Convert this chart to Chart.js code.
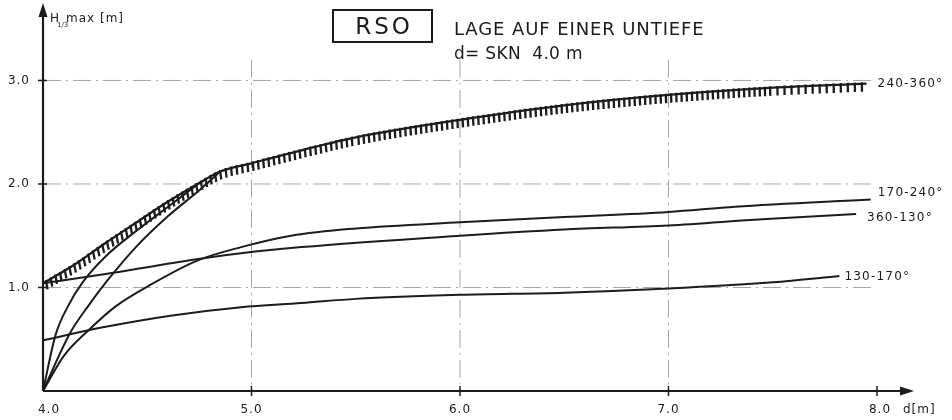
<!DOCTYPE html>
<html lang="de">
<head>
    <meta charset="UTF-8">
    <title>RSO - Lage auf einer Untiefe</title>
    <script src="https://cdn.jsdelivr.net/npm/chart.js"></script>
    <style>
        body { margin: 0; background: #fff; }
        .sheet { position: relative; width: 952px; height: 420px; font-family: "DejaVu Sans", sans-serif; color: #1c1c1c; }
        .sheet canvas { position: absolute; left: 0; top: 0; }
        .station { position: absolute; left: 332px; top: 9px; width: 97px; height: 30px; border: 2px solid #1c1c1c;
                   font-size: 23px; line-height: 30px; text-align: center; letter-spacing: 3px; text-indent: 3px; }
        .site { position: absolute; left: 454px; top: 19px; font-size: 18px; line-height: 20px; letter-spacing: 0.9px; }
        .site .depth { display: block; margin-top: 4px; font-size: 17px; letter-spacing: 0.3px; }
    </style>
</head>
<body>
    <div class="sheet">
        <canvas id="waveChart" width="952" height="420"></canvas>
        <div class="station">RSO</div>
        <div class="site">LAGE AUF EINER UNTIEFE<span class="depth">d= SKN&nbsp; 4.0 m</span></div>
    </div>

    <script>
        // wave height envelope 240-360° (hatched)
        const dEnv = [4.0, 4.15, 4.3, 4.45, 4.6, 4.75, 4.85, 5.0, 5.25, 5.5, 6.0, 6.5, 7.0, 7.5, 7.95];
        const hEnv = [1.04, 1.22, 1.43, 1.63, 1.83, 2.01, 2.12, 2.20, 2.33, 2.45, 2.62, 2.76, 2.86, 2.93, 2.97];

        // two steep branches from the origin that run into the envelope
        const dBranchA = [4.0, 4.06, 4.12, 4.19, 4.3, 4.45, 4.6, 4.75];
        const hBranchA = [0, 0.54, 0.82, 1.05, 1.30, 1.55, 1.78, 2.01];
        const dBranchB = [4.0, 4.13, 4.22, 4.31, 4.45, 4.6, 4.75, 4.85];
        const hBranchB = [0, 0.56, 0.83, 1.07, 1.40, 1.69, 1.94, 2.12];

        // 170-240°
        const d170 = [4.0, 4.1, 4.22, 4.35, 4.51, 4.74, 4.95, 5.19, 5.5, 6.0, 6.5, 7.0, 7.32, 7.97];
        const h170 = [0, 0.34, 0.59, 0.82, 1.02, 1.26, 1.39, 1.50, 1.57, 1.63, 1.68, 1.73, 1.78, 1.85];

        // 360-130°
        const d360 = [4.0, 4.3, 4.63, 4.95, 5.24, 6.0, 6.5, 7.0, 7.45, 7.9];
        const h360 = [1.04, 1.13, 1.24, 1.33, 1.39, 1.50, 1.56, 1.60, 1.66, 1.71];

        // 130-170°
        const d130 = [4.0, 4.3, 4.62, 4.95, 5.24, 5.5, 6.0, 6.5, 7.0, 7.5, 7.82];
        const h130 = [0.49, 0.62, 0.73, 0.81, 0.85, 0.89, 0.93, 0.95, 0.99, 1.05, 1.11];

        const curveNames = ['240-360°', '170-240°', '360-130°', '130-170°'];

        const xTicks = [4, 5, 6, 7, 8];
        const xTickLabels = ['4.0', '5.0', '6.0', '7.0', '8.0'];
        const yTicks = [1, 2, 3];
        const yTickLabels = ['1.0', '2.0', '3.0'];

        const INK = '#1c1c1c';
        const FONT = '"DejaVu Sans", sans-serif';

        function pts(xs, ys) {
            return xs.map((x, i) => ({ x: x, y: ys[i] }));
        }

        function curve(label, xs, ys, extra) {
            return Object.assign({
                label: label,
                data: pts(xs, ys),
                borderColor: INK,
                borderWidth: 2,
                pointRadius: 0,
                fill: false,
                cubicInterpolationMode: 'monotone',
                clip: false
            }, extra || {});
        }

        // where each end label sits relative to the last point of its curve
        const endLabels = [
            { ds: 0, dx: 11, dy: 0 },
            { ds: 3, dx: 7, dy: -7 },
            { ds: 4, dx: 11, dy: 4 },
            { ds: 5, dx: 5, dy: 1 }
        ];

        function text(ctx, str, x, y, size, align, spacing) {
            ctx.font = size + 'px ' + FONT;
            ctx.textAlign = align || 'left';
            ctx.textBaseline = 'middle';
            ctx.letterSpacing = (spacing || 0) + 'px';
            ctx.fillText(str, x, y);
        }

        // points along the rendered bezier of a line dataset
        function samplePath(meta) {
            const p = meta.data;
            const out = [];
            for (let i = 0; i < p.length - 1; i++) {
                const a = p[i], b = p[i + 1];
                const c1x = a.cp2x ?? a.x, c1y = a.cp2y ?? a.y;
                const c2x = b.cp1x ?? b.x, c2y = b.cp1y ?? b.y;
                for (let s = 0; s < 40; s++) {
                    const t = s / 40, u = 1 - t;
                    out.push({
                        x: u*u*u*a.x + 3*u*u*t*c1x + 3*u*t*t*c2x + t*t*t*b.x,
                        y: u*u*u*a.y + 3*u*u*t*c1y + 3*u*t*t*c2y + t*t*t*b.y
                    });
                }
            }
            const last = p[p.length - 1];
            out.push({ x: last.x, y: last.y });
            return out;
        }

        const drawingPlugin = {
            id: 'drawing',
            beforeDatasetsDraw(chart) {
                const ctx = chart.ctx;
                const xs = chart.scales.x, ys = chart.scales.y;
                const x0 = xs.getPixelForValue(4), y0 = ys.getPixelForValue(0);
                ctx.save();
                ctx.strokeStyle = '#a6a6a6';
                ctx.lineWidth = 1;
                ctx.setLineDash([18, 5, 2, 5]);
                yTicks.forEach(v => {
                    const y = ys.getPixelForValue(v);
                    ctx.beginPath();
                    ctx.moveTo(x0, y);
                    ctx.lineTo(xs.getPixelForValue(7.98), y);
                    ctx.stroke();
                });
                [5, 6, 7].forEach(v => {
                    const x = xs.getPixelForValue(v);
                    ctx.beginPath();
                    ctx.moveTo(x, ys.getPixelForValue(3.2));
                    ctx.lineTo(x, y0);
                    ctx.stroke();
                });
                ctx.restore();
            },
            afterDatasetsDraw(chart) {
                const ctx = chart.ctx;
                const xs = chart.scales.x, ys = chart.scales.y;
                const area = chart.chartArea;
                const x0 = xs.getPixelForValue(4), y0 = ys.getPixelForValue(0);
                ctx.save();
                ctx.strokeStyle = INK;
                ctx.fillStyle = INK;

                // comb hatching under the envelope, each tooth starts on the line
                const path = samplePath(chart.getDatasetMeta(0));
                let acc = 2;
                ctx.lineWidth = 2.3;
                ctx.lineCap = 'butt';
                for (let i = 1; i < path.length; i++) {
                    const dx = path[i].x - path[i - 1].x, dy = path[i].y - path[i - 1].y;
                    const len = Math.hypot(dx, dy);
                    acc += len;
                    if (acc >= 5.2 && len > 0) {
                        acc = 0;
                        let nx = -dy / len, ny = dx / len;
                        if (ny < 0) { nx = -nx; ny = -ny; }
                        let hx = nx * 0.35, hy = ny * 0.35 + 0.65;
                        const hl = Math.hypot(hx, hy);
                        hx /= hl; hy /= hl;
                        ctx.beginPath();
                        ctx.moveTo(path[i].x - hx * 1.5, path[i].y - hy * 1.5);
                        ctx.lineTo(path[i].x + hx * 8, path[i].y + hy * 8);
                        ctx.stroke();
                    }
                }

                // axes with arrow heads
                ctx.lineWidth = 2.2;
                ctx.beginPath();
                ctx.moveTo(x0, y0);
                ctx.lineTo(x0, area.top + 8);
                ctx.moveTo(x0, y0);
                ctx.lineTo(area.right - 8, y0);
                ctx.stroke();
                ctx.beginPath();
                ctx.moveTo(x0, area.top - 2);
                ctx.lineTo(x0 - 4.5, area.top + 12);
                ctx.lineTo(x0 + 4.5, area.top + 12);
                ctx.closePath();
                ctx.moveTo(area.right + 2, y0);
                ctx.lineTo(area.right - 12, y0 - 4.5);
                ctx.lineTo(area.right - 12, y0 + 4.5);
                ctx.closePath();
                ctx.fill();

                // tick marks and labels
                ctx.lineWidth = 1.5;
                yTicks.forEach((v, i) => {
                    const y = ys.getPixelForValue(v);
                    ctx.beginPath();
                    ctx.moveTo(x0 - 5, y);
                    ctx.lineTo(x0 + 4, y);
                    ctx.stroke();
                    text(ctx, yTickLabels[i], 30, y, 12, 'right', 1);
                });
                xTicks.forEach((v, i) => {
                    const x = xs.getPixelForValue(v);
                    if (v > 4) {
                        ctx.beginPath();
                        ctx.moveTo(x, y0 - 5);
                        ctx.lineTo(x, y0 + 5);
                        ctx.stroke();
                    }
                    text(ctx, xTickLabels[i], v === 4 ? x + 6 : x + (v === 8 ? 3 : 0), 410, 12, 'center', 1);
                });
                text(ctx, 'd[m]', 903, 410, 12, 'left', 1);

                // y axis title H1/3 max [m]
                text(ctx, 'H', 50, 19, 12, 'left', 0);
                text(ctx, '1/3', 57, 25, 7, 'left', 0);
                text(ctx, 'max [m]', 66, 19, 12, 'left', 1);

                // end labels of the curves
                endLabels.forEach((lab, i) => {
                    const meta = chart.getDatasetMeta(lab.ds);
                    const last = meta.data[meta.data.length - 1];
                    text(ctx, curveNames[i], last.x + lab.dx, last.y + lab.dy, 12, 'left', 1.2);
                });
                ctx.restore();
            }
        };

        new Chart(document.getElementById('waveChart'), {
            type: 'line',
            data: {
                datasets: [
                    curve(curveNames[0], dEnv, hEnv, { borderWidth: 2.3 }),
                    curve('branch a', dBranchA, hBranchA),
                    curve('branch b', dBranchB, hBranchB),
                    curve(curveNames[1], d170, h170),
                    curve(curveNames[2], d360, h360),
                    curve(curveNames[3], d130, h130)
                ]
            },
            options: {
                responsive: false,
                animation: false,
                layout: { padding: { left: 43, right: 40, top: 5, bottom: 29 } },
                plugins: { legend: { display: false }, tooltip: { enabled: false } },
                scales: {
                    x: { type: 'linear', min: 4, max: 8.168, display: false },
                    y: { min: 0, max: 3.729, display: false }
                }
            },
            plugins: [drawingPlugin]
        });
    </script>
</body>
</html>
